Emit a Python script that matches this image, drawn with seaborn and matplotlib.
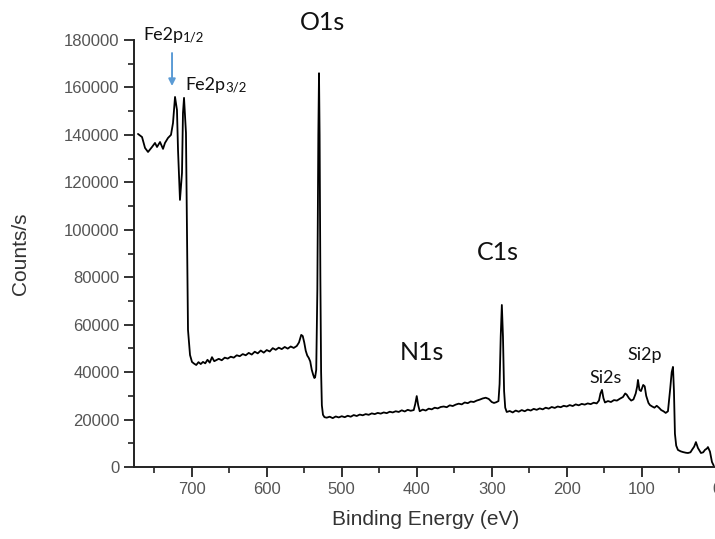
import matplotlib
matplotlib.use("Agg")
import matplotlib.pyplot as plt
from matplotlib.ticker import MultipleLocator
import seaborn as sns

# XPS survey spectrum: binding energy (eV) and intensity (counts/s)
binding_energy = [
    771.7, 766.3, 762.3, 758.3, 753.0, 749.0, 746.3, 742.3, 738.3, 735.7,
    731.7, 727.7, 725.0, 722.3, 719.7, 718.3, 715.7, 713.0, 711.7, 710.3,
    707.7, 706.3, 705.0, 702.3, 699.7,
    697, 694, 691, 688, 685, 682, 679, 676, 673, 670, 667, 664, 660, 656,
    652, 648, 644, 640, 636, 632, 628, 624, 620, 616, 612, 608, 604, 600,
    596, 592, 588, 584, 580, 576, 572, 568, 564, 560, 557, 554, 552, 550,
    548, 546, 544, 542, 540, 538, 536.5, 535.5, 534, 532.5, 531.2, 530.3,
    529.5, 528.5, 527.5, 526.5, 525, 523,
    520, 516, 512, 508, 504, 500, 496, 492, 488, 484, 480, 476, 472, 468,
    464, 460, 456, 452, 448, 444, 440, 436, 432, 428, 424, 420, 416, 412,
    408, 404, 402, 400, 398, 396, 392, 388, 384, 380, 376, 372, 368, 364,
    360, 356, 352, 348, 344, 340, 336, 332, 328, 324, 320, 316, 312, 308,
    304, 300, 297, 294, 291, 289.5, 288, 286.5, 285, 283.5, 282, 280,
    276, 272, 268, 264, 260, 256, 252, 248, 244, 240, 236, 232, 228, 224,
    220, 216, 212, 208, 204, 200, 196, 192, 188, 184, 180, 176, 172, 168,
    164, 160, 157, 155, 153, 151, 149, 145, 141, 137, 133, 129, 125, 122,
    120, 117, 114, 111, 108, 106, 105, 103, 101, 98, 96, 94, 91, 89, 86,
    83, 80, 77, 74, 71, 68, 65, 62, 60, 58.3, 57, 55.7, 54, 51.7, 48, 45,
    41, 38.3, 35, 33, 30, 27.7, 25, 21, 18, 15.7, 13, 11.7, 9, 6.3, 4,
]

counts = [
    140400, 139100, 134500, 132800, 134900, 136600, 134900, 137000, 134100, 136600,
    138700, 140000, 145000, 156000, 150500, 133600, 112600, 124000, 149200, 155600,
    140800, 98600, 57800, 47200, 44300,
    43600, 43000, 44200, 43400, 44300, 43700, 45200, 44000, 46300, 44600, 45100, 45600, 45000, 46100,
    45700, 46500, 46100, 47100, 46700, 47600, 47100, 48100, 47400, 48600, 47900, 49100, 48200, 49300,
    48700, 50100, 49400, 50300, 49700, 50600, 49900, 50800, 50200, 51000, 52500, 55700, 55200, 52500,
    49000, 47000, 46000, 44500, 41000, 38800, 37500, 37800, 41000, 75000, 140000, 166000,
    140000, 80000, 40000, 26000, 22000, 21000,
    20800, 21200, 20600, 21300, 20900, 21400, 21000, 21600, 21200, 21900, 21500, 22100, 21800, 22300,
    22000, 22600, 22300, 22800, 22500, 23000, 22700, 23300, 23000, 23500, 23200, 23900, 23400, 24100,
    23700, 24000, 26500, 29900, 26000, 23500, 24200, 23800, 24600, 24300, 25000, 24700, 25300, 25500,
    25200, 26000, 25700, 26300, 26700, 26400, 27200, 26900, 27600, 27400, 28000, 28400, 28900, 29200,
    28700, 27400, 27000, 27300, 27800, 35000, 55000, 68300, 55000, 32000, 25000, 23200,
    23600, 23000, 23800, 23300, 24000, 23500, 24200, 23800, 24500, 24100, 24700, 24300, 25000, 24600,
    25300, 24900, 25500, 25200, 25800, 25500, 26100, 25700, 26400, 26000, 26600, 26300, 26800, 26500,
    27100, 26800, 28000, 31000, 32500, 29000, 27200, 27800, 27400, 28200, 28000, 28800, 29500, 31000,
    30500, 29000, 28000, 28500, 31000, 34000, 36700, 32500, 32000, 34600, 34000, 30000, 27000, 26100, 25500,
    25000, 25800, 25000, 24000, 23500, 22800, 23500, 33000, 40000, 42200, 32000, 14000, 9000, 7200, 6600, 6300,
    6000, 5900, 6200, 7200, 8600, 10500, 8000, 5900, 6200, 7200, 7800, 8400, 6500, 2100, 600,
]

y_ticks = list(range(0, 180001, 20000))
x_ticks = [700, 600, 500, 400, 300, 200, 100, 0]

sns.set_style("ticks")
plt.rcParams["font.family"] = ["Liberation Sans", "DejaVu Sans"]

fig = plt.figure(figsize=(7.15, 5.39), dpi=100)
ax = fig.add_axes([134 / 715, 72 / 539, 582.7 / 715, 427 / 539])

sns.lineplot(x=binding_energy, y=counts, sort=False, estimator=None,
             color="black", linewidth=1.3, ax=ax)

ax.set_xlim(777, 0)
ax.set_ylim(0, 180000)
ax.set_xticks(x_ticks)
ax.set_yticks(y_ticks)
ax.xaxis.set_minor_locator(MultipleLocator(50))
ax.yaxis.set_minor_locator(MultipleLocator(10000))

for side in ("top", "right"):
    ax.spines[side].set_visible(False)
for side in ("left", "bottom"):
    ax.spines[side].set_linewidth(1.4)
    ax.spines[side].set_color("#222222")

ax.tick_params(which="major", length=7, width=1.3, color="#222222",
               labelsize=12, labelcolor="#555555", pad=3.5)
ax.tick_params(which="minor", length=4, width=1.2, color="#222222")

ax.set_xlabel("Binding Energy (eV)", fontsize=15, color="#333333")
ax.set_ylabel("Counts/s", fontsize=15, color="#333333")
ax.xaxis.set_label_coords(0.5, -0.1)
ax.yaxis.set_label_coords(-0.178, 0.5)

# Peak labels
peak_font = ["Lato", "DejaVu Sans"]
big = dict(fontsize=18, family=peak_font, color="#111111", ha="center", va="baseline")
small = dict(fontsize=13, family=peak_font, color="#111111", ha="center", va="baseline")
ax.text(526.3, 184200, "O1s", **big)
ax.text(291.7, 87260, "C1s", **big)
ax.text(393, 45100, "N1s", **big)
ax.text(147.7, 35400, "Si2s", **small)
ax.text(95.7, 45100, "Si2p", **small)

fe_half = ax.text(765, 180000, "Fe2p", fontsize=13, family=peak_font,
                  color="#111111", ha="left", va="baseline")
fe_three = ax.text(709, 158900, "Fe2p", fontsize=13, family=peak_font,
                   color="#111111", ha="left", va="baseline")
for parent, sub in ((fe_half, "1/2"), (fe_three, "3/2")):
    ax.annotate(sub, xy=(1, 0), xycoords=parent, fontsize=9.5,
                family=peak_font, color="#111111", ha="left", va="bottom")

ax.annotate("", xy=(726.3, 160600), xytext=(726.3, 174500),
            arrowprops=dict(arrowstyle="-|>", color="#5B9BD5", lw=1.4,
                            mutation_scale=10, shrinkA=0, shrinkB=0))

fig.savefig("out.png", dpi=100)
